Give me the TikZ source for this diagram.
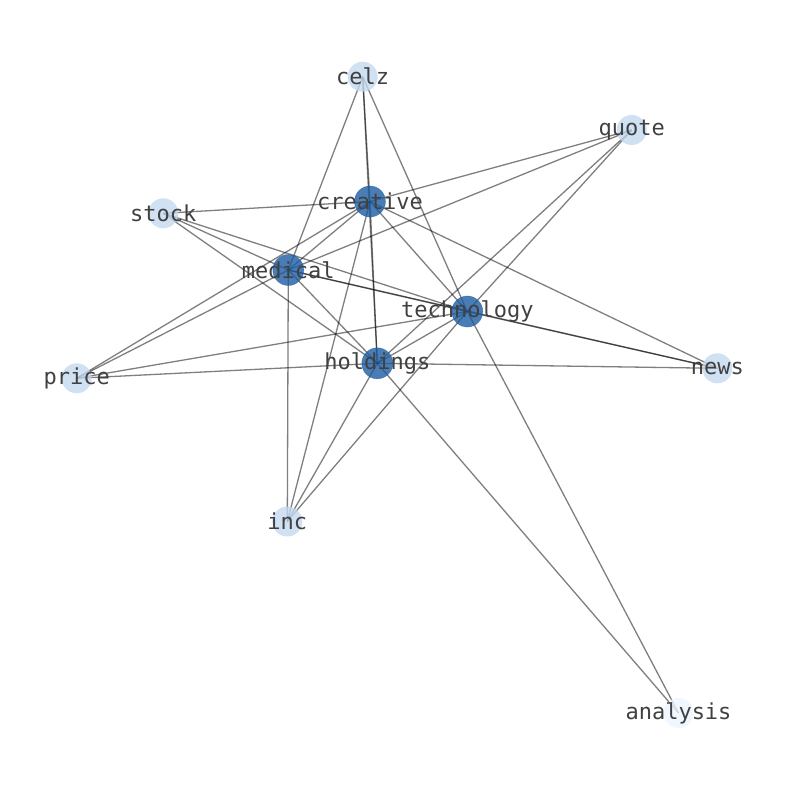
\documentclass[tikz,border=0pt]{standalone}
\usepackage{fontspec}
\newfontfamily\lblfont{DejaVu Sans Mono}
\usetikzlibrary{backgrounds}
\definecolor{darkn}{RGB}{29,92,162}
\definecolor{lightn}{RGB}{195,217,239}
\definecolor{palen}{RGB}{236,245,255}
\definecolor{txt}{RGB}{64,64,64}
\tikzset{
  x=1pt, y=-1pt,
  lbl/.style={font=\lblfont\fontsize{22}{26}\selectfont, text=txt, inner sep=0pt},
  hub/.style={circle, inner sep=0pt, minimum size=31pt, fill=darkn, fill opacity=0.8, draw=darkn, draw opacity=0.5, line width=0.6pt},
  leaf/.style={circle, inner sep=0pt, minimum size=30pt, fill=lightn, fill opacity=0.8},
  faint/.style={circle, inner sep=0pt, minimum size=30pt, fill=palen, fill opacity=0.8},
  edge/.style={draw=black, draw opacity=0.5, line width=1.3pt}
}
\begin{document}
\begin{tikzpicture}
\useasboundingbox (0,0) rectangle (794,790);
\node[leaf] (celz) at (362.7,76.7) {};
\node[leaf] (quote) at (631.7,130) {};
\node[hub] (creative) at (370,201.5) {};
\node[leaf] (stock) at (163.3,213.3) {};
\node[hub] (medical) at (288.3,270) {};
\node[hub] (technology) at (467.3,311.5) {};
\node[hub] (holdings) at (377.3,363.3) {};
\node[leaf] (news) at (717.3,368.3) {};
\node[leaf] (price) at (76.7,378.3) {};
\node[leaf] (inc) at (287.3,521.5) {};
\node[faint] (analysis) at (678.5,713) {};
\begin{scope}[on background layer]
\foreach \a/\b in {celz/medical, celz/creative, celz/holdings, celz/technology,
  quote/creative, quote/medical, quote/technology, quote/holdings,
  stock/creative, stock/medical, stock/technology, stock/holdings,
  creative/medical, creative/holdings, creative/technology, creative/news, creative/price, creative/inc,
  medical/technology, medical/news, medical/holdings, medical/inc, medical/price,
  technology/news, technology/price, technology/holdings, technology/inc, technology/analysis,
  holdings/news, holdings/price, holdings/inc, holdings/analysis}
  \draw[edge] (\a.center) -- (\b.center);
\end{scope}
\foreach \n in {celz,quote,creative,stock,medical,technology,holdings,news,price,inc,analysis}
  \node[lbl] (\n-l) at (\n.center) {\n};
\end{tikzpicture}
\end{document}
